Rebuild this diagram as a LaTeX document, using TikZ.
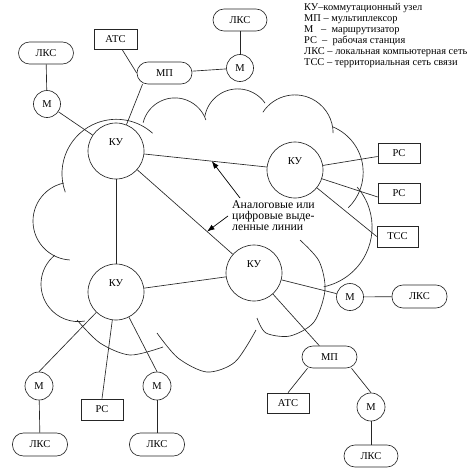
\documentclass[tikz,border=0pt]{standalone}
\usepackage{fontspec}
\setmainfont{Liberation Serif}
\usetikzlibrary{arrows.meta,calc}
\begin{document}
\begin{tikzpicture}[x=1pt,y=-1pt,
  every node/.style={font=\fontsize{10.5}{12}\selectfont},
  line/.style={line width=0.65pt, draw=black!85},
  ku/.style={circle, draw=black!85, line width=0.65pt, minimum size=56pt, inner sep=0pt, text depth=18pt},
  mr/.style={circle, draw=black!85, line width=0.65pt, minimum size=27pt, inner sep=0pt},
  pill/.style={rectangle, rounded corners=11pt, draw=black!85, line width=0.65pt, minimum width=55pt, minimum height=22pt, inner sep=0pt},
  sqbox/.style={rectangle, draw=black!85, line width=0.65pt, minimum width=42pt, minimum height=20pt, inner sep=0pt},
  cloud/.style={line width=0.65pt, draw=black!85},
  arr/.style={line width=0.7pt, draw=black, -{Latex[length=7.5pt,width=5.5pt]}},
]
\fill[white] (0,0) rectangle (470,471);
\useasboundingbox (0,0) rectangle (470,471);

% cloud lobes (circular arcs, image coordinates, angles measured with y downwards)
\draw[cloud] ($(116.3,173.6)+(160:54.3)$) arc[start angle=160, end angle=312, radius=54.3];
\draw[cloud] ($(174.9,130.7)+(194:32.8)$) arc[start angle=194, end angle=341, radius=32.8];
\draw[cloud] ($(237.7,122.3)+(190:33.4)$) arc[start angle=190, end angle=325, radius=33.4];
\draw[cloud] ($(294.9,133.1)+(213:38.2)$) arc[start angle=213, end angle=360, radius=38.2];
\draw[cloud] ($(313.9,172.4)+(-67:49.3)$) arc[start angle=-67, end angle=46, radius=49.3];
\draw[cloud] ($(311.1,227.1)+(-41:61)$) arc[start angle=-41, end angle=78, radius=61];
\draw[cloud] plot[smooth] coordinates {(300,240) (319,261) (325,290) (314,322) (290,336) (266,333) (257,318)};
\draw[cloud] plot[smooth] coordinates {(157,333) (178,358) (207,372) (235,362) (256,330)};
\draw[cloud] plot[smooth] coordinates {(77,320) (100,343) (130,355) (163,347)};
\draw[cloud] ($(78.4,284.2)+(231:37.4)$) arc[start angle=231, end angle=80, radius=37.4];
\draw[cloud] ($(71.9,221.1)+(258:38.9)$) arc[start angle=258, end angle=93, radius=38.9];

% switching nodes
\node[ku] (ku1) at (116,151) {КУ};
\node[ku] (ku2) at (295,170) {КУ};
\node[ku] (ku3) at (116,292) {КУ};
\node[ku] (ku4) at (254,273) {КУ};

% top left
\node[pill] (lks1) at (46,53) {ЛКС};
\node[mr] (m1) at (47,104) {М};
\node[sqbox, minimum width=43pt] (atc1) at (115.5,39) {АТС};
\node[pill] (mp1) at (164.5,73) {МП};
\node[mr] (m2) at (240,68) {М};
\node[pill, minimum width=54pt] (lks2) at (240,20) {ЛКС};

% right
\node[sqbox] (pc1) at (399,153) {РС};
\node[sqbox] (pc2) at (399,193) {РС};
\node[sqbox, minimum width=41pt, minimum height=21pt] (tcc) at (397.5,236.5) {ТСС};
\node[mr] (m3) at (350,297) {М};
\node[pill, minimum height=23pt] (lks3) at (419.5,296.5) {ЛКС};

% bottom right
\node[pill] (mp2) at (329.5,357) {МП};
\node[sqbox] (atc2) at (288,403) {АТС};
\node[mr, minimum size=28pt] (m4) at (371,407) {М};
\node[pill, minimum width=54pt] (lks4) at (371,456) {ЛКС};

% bottom left
\node[mr, minimum size=28pt] (m5) at (39,386) {М};
\node[pill, minimum height=23pt] (lks5) at (40,444.5) {ЛКС};
\node[sqbox, minimum height=21pt] (pc3) at (102,409.5) {РС};
\node[mr, minimum size=28pt] (m6) at (157,386) {М};
\node[pill, minimum height=23pt] (lks6) at (157,444.5) {ЛКС};

% connectors
\draw[line] (lks1) -- (m1);
\draw[line] (m1) -- (ku1);
\draw[line] ([xshift=6.5pt]atc1.south) -- (mp1.west);
\draw[line] ([xshift=-22pt]mp1.south) -- (ku1);
\draw[line] (mp1) -- (m2);
\draw[line] (lks2) -- (m2);

\draw[line] (ku1) -- (ku2);
\draw[line] (ku1) -- (ku3);
\draw[line] (ku1) -- (ku4);
\draw[line] (ku3) -- (ku4);

\draw[line] (ku2) -- (pc1);
\draw[line] (ku2) -- ([yshift=-4pt]pc2.west);
\draw[line] (ku2) -- (tcc.west);

\draw[line] (ku4) -- (m3);
\draw[line] (m3) -- (lks3);
\draw[line] (ku4) -- (mp2);
\draw[line] ([xshift=-22pt]mp2.south) -- (atc2.north);
\draw[line] ([xshift=22pt]mp2.south) -- (m4.north);
\draw[line] (m4) -- (lks4);

\draw[line] (ku3) -- (m5.north);
\draw[line] (ku3) -- (pc3.north);
\draw[line] (ku3) -- (m6.north);
\draw[line] (m5) -- (lks5);
\draw[line] (m6) -- (lks6);

% annotation
\node[anchor=north west, align=left, inner sep=0pt, font=\fontsize{11.8}{11}\selectfont] (lines) at (232,201)
  {Аналоговые или\\цифровые выде-\\ленные линии};
\coordinate (t1) at (240,198);
\coordinate (t2) at (228,216);
\coordinate (h1) at ($(ku1)!0.535!(ku2)$);
\coordinate (h2) at ($(ku1)!0.66!(ku4)$);
\draw[arr] (t1) -- (h1);
\draw[arr] (t2) -- (h2);

% legend
\node[anchor=north west, align=left, inner sep=0pt, font=\fontsize{10.4}{11}\selectfont] (legend) at (304,3.5)
  {КУ–коммутационный узел\\
   МП – мультиплексор\\
   М\ \ \ – \ маршрутизатор\\
   РС \ – \ рабочая станция\\
   ЛКС – локальная компьютерная сеть\\
   ТСС – территориальная сеть связи};
\end{tikzpicture}
\end{document}
